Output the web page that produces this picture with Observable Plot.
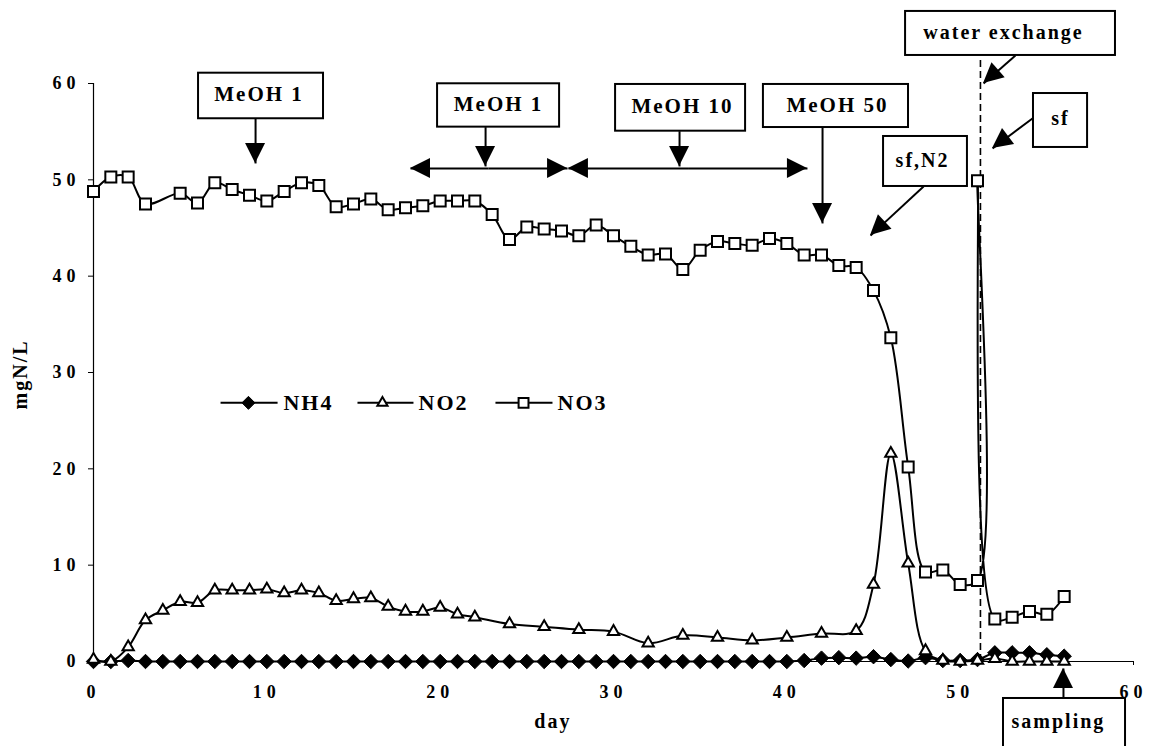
<!DOCTYPE html>
<html><head><meta charset="utf-8">
<script src="https://cdn.jsdelivr.net/npm/d3@7"></script>
<script src="https://cdn.jsdelivr.net/npm/@observablehq/plot@0.6"></script>
<style>
html,body{margin:0;padding:0;background:#fff;}
#chart svg{display:block;background:#fff;}
#chart svg text{font-family:"Liberation Serif","DejaVu Serif",serif;font-weight:bold;fill:#000;}
#chart g[aria-label^="x-axis"] text,#chart g[aria-label^="y-axis"] text{letter-spacing:5px;}
#chart g[aria-label="text"] text{letter-spacing:2px;}
</style></head><body><div id="chart"></div>
<script>
// ---- data (day, mgN/L) ----
const daysNH4 = [0,1,2,3,4,5,6,7,8,9,10,11,12,13,14,15,16,17,18,19,20,21,22,23,24,25,26,27,28,29,30,31,32,33,34,35,36,37,38,39,40,41,42,43,44,45,46,47,48,49,50,51,52,53,54,55,56];
const NH4 = [0,0,0.1,0,0,0,0,0,0,0,0,0,0,0,0,0,0,0,0,0,0,0,0,0,0,0,0,0,0,0,0,0,0,0,0,0,0,0,0,0,0,0.1,0.35,0.4,0.35,0.5,0.2,0.05,0.4,0.1,0.1,0.2,0.9,0.9,0.9,0.7,0.55];
const daysNO2 = [0,1,2,3,4,5,6,7,8,9,10,11,12,13,14,15,16,17,18,19,20,21,22,24,26,28,30,32,34,36,38,40,42,44,45,46,47,48,49,50,51,52,53,54,55,56];
const NO2 = [0.2,0,1.5,4.3,5.3,6.2,6.1,7.4,7.4,7.4,7.5,7.1,7.4,7.1,6.3,6.5,6.6,5.7,5.2,5.2,5.6,4.9,4.6,3.9,3.6,3.3,3.1,1.9,2.7,2.5,2.2,2.5,2.9,3.2,8.0,21.6,10.2,1.1,0.1,0,0.1,0.3,0,0,0,0];
const daysNO3 = [0,1,2,3,5,6,7,8,9,10,11,12,13,14,15,16,17,18,19,20,21,22,23,24,25,26,27,28,29,30,31,32,33,34,35,36,37,38,39,40,41,42,43,44,45,46,47,48,49,50,51,51,52,53,54,55,56];
const NO3 = [48.8,50.3,50.3,47.5,48.6,47.6,49.7,49.0,48.4,47.8,48.8,49.7,49.4,47.2,47.5,48.0,46.9,47.1,47.3,47.8,47.8,47.8,46.4,43.8,45.1,44.9,44.7,44.2,45.3,44.2,43.1,42.2,42.3,40.7,42.7,43.6,43.4,43.2,43.9,43.4,42.2,42.2,41.1,40.9,38.5,33.6,20.2,9.3,9.5,8.0,8.4,49.9,4.4,4.6,5.2,4.9,6.75];

const xTicks = [0,10,20,30,40,50,60];
const yTicks = [0,10,20,30,40,50,60];

// ---- annotations (in data units: day, mgN/L) ----
const boxLabels = ["MeOH 1","MeOH 1","MeOH 10","MeOH 50","sf,N2","water exchange","sf","sampling"];
const boxX1 = [6.06,19.85,30.12,38.65,45.58,46.85,54.23,52.50];
const boxX2 = [13.27,26.89,37.62,47.02,50.42,58.96,57.35,59.54];
const boxY1 = [56.34,55.47,55.05,55.43,49.31,62.91,53.36,-9.4];
const boxY2 = [61.07,59.97,59.90,59.90,54.50,67.48,58.96,-3.84];
const boxTX = [9.55,23.37,33.98,42.92,47.83,52.50,55.79,55.67];
const boxTY = [58.9,57.8,57.6,57.7,52.0,65.3,56.4,-6.2];
const boxSize = [21,21,21,21,20,20,20,20];

const arrowX1 = [9.35,22.62,22.8,22.8,33.81,34.3,34.3,42.06,47.89,53.19,54.17,55.96];
const arrowY1 = [56.34,55.47,51.18,51.18,55.05,51.18,51.18,55.43,49.31,62.91,56.37,-3.84];
const arrowX2 = [9.35,22.62,18.29,27.35,33.81,27.40,41.19,42.06,44.83,51.35,51.87,55.96];
const arrowY2 = [51.70,51.39,51.18,51.18,51.39,51.18,51.18,45.47,44.21,60.00,53.25,-0.73];

const exchangeDay = [51.17];
const exchangeTop = [62.7];

const legendNames = ["NH4","NO2","NO3"];
const legendX1 = [7.33,15.23,23.19];
const legendX2 = [10.62,18.46,26.48];
const legendSym = [8.94,16.67,24.81];
const legendText = [10.96,18.75,26.77];
const legendY = [26.85];

const axisLabels = ["mgN/L","day"];

// ---- build tables ----
const toRows = (days, vals) => days.map((d, i) => ({day: d, v: vals[i]}));
const series = [
  {rows: toRows(daysNH4, NH4), symbol: "diamond2", r: 6.5, fill: "black", strokeWidth: 1},
  {rows: toRows(daysNO2, NO2), symbol: "triangle", r: 4.2, fill: "white", strokeWidth: 2},
  {rows: toRows(daysNO3, NO3), symbol: "square", r: 6.2, fill: "white", strokeWidth: 2}
];
const boxes = boxLabels.map((t, i) => ({t, x1: boxX1[i], x2: boxX2[i], y1: boxY1[i], y2: boxY2[i], tx: boxTX[i], ty: boxTY[i], fs: boxSize[i]}));
const arrows = arrowX1.map((x, i) => ({x1: x, y1: arrowY1[i], x2: arrowX2[i], y2: arrowY2[i]}));
const legend = legendNames.map((n, i) => ({n, x1: legendX1[i], x2: legendX2[i], xs: legendSym[i], xt: legendText[i], y: legendY[0]}));

function arrowHeads(data) {
  return (index, scales) => {
    const g = d3.create("svg:g");
    for (const a of data) {
      const x1 = scales.x(a.x1), y1 = scales.y(a.y1), x2 = scales.x(a.x2), y2 = scales.y(a.y2);
      const ang = Math.atan2(y2 - y1, x2 - x1);
      const L = 20, W = 10;
      const bx = x2 - L * Math.cos(ang), by = y2 - L * Math.sin(ang);
      const px = -Math.sin(ang) * W, py = Math.cos(ang) * W;
      g.append("path").attr("d", `M${x2},${y2}L${bx + px},${by + py}L${bx - px},${by - py}Z`).attr("fill", "black");
    }
    return g.node();
  };
}

const marks = [
  Plot.ruleY([0], {stroke: "black", strokeWidth: 1.2}),
  Plot.ruleX([0], {stroke: "black", strokeWidth: 1.2}),
  Plot.ruleX(exchangeDay, {x: d => d, y1: 0, y2: exchangeTop[0], stroke: "black", strokeWidth: 1.6, strokeDasharray: "7,4"})
];
for (const s of series) {
  marks.push(Plot.line(s.rows, {x: "day", y: "v", stroke: "black", strokeWidth: 2, curve: "catmull-rom"}));
}
for (const s of series) {
  marks.push(Plot.dot(s.rows, {x: "day", y: "v", symbol: s.symbol, r: s.r, fill: s.fill, stroke: "black", strokeWidth: s.strokeWidth}));
}
// legend
marks.push(Plot.link(legend, {x1: "x1", x2: "x2", y1: "y", y2: "y", stroke: "black", strokeWidth: 2}));
legend.forEach((l, i) => {
  const s = series[i];
  marks.push(Plot.dot([l], {x: "xs", y: "y", symbol: s.symbol, r: s.r * 0.9, fill: s.fill, stroke: "black", strokeWidth: s.strokeWidth}));
});
marks.push(Plot.text(legend, {x: "xt", y: "y", text: "n", textAnchor: "start", fontSize: 22, fontWeight: "bold"}));
// annotations
marks.push(Plot.link(arrows, {x1: "x1", y1: "y1", x2: "x2", y2: "y2", stroke: "black", strokeWidth: 2}));
marks.push(arrowHeads(arrows));
marks.push(Plot.rect(boxes, {x1: "x1", x2: "x2", y1: "y1", y2: "y2", fill: "white", stroke: "black", strokeWidth: 2}));
marks.push(Plot.text(boxes, {x: "tx", y: "ty", text: "t", fontSize: d => d.fs, fontWeight: "bold"}));
// axis titles
marks.push(Plot.text([axisLabels[0]], {x: -4.2, y: 29.8, text: d => d, rotate: -90, fontSize: 20, fontWeight: "bold"}));
marks.push(Plot.text([axisLabels[1]], {x: 26.5, y: -6.2, text: d => d, fontSize: 20, fontWeight: "bold"}));

const chart = Plot.plot({
  width: 1158,
  height: 746,
  marginLeft: 93,
  marginRight: 25,
  marginTop: 83,
  marginBottom: 85,
  style: {fontFamily: "Liberation Serif, serif", fontSize: "18px", fontWeight: "bold", background: "white", color: "black", overflow: "visible"},
  x: {domain: [0, 60], ticks: xTicks, tickSize: 4, tickPadding: 20, label: null},
  y: {domain: [0, 60], ticks: yTicks, tickSize: 5, tickPadding: 8, label: null},
  marks
});
document.getElementById("chart").appendChild(chart);
</script></body></html>
